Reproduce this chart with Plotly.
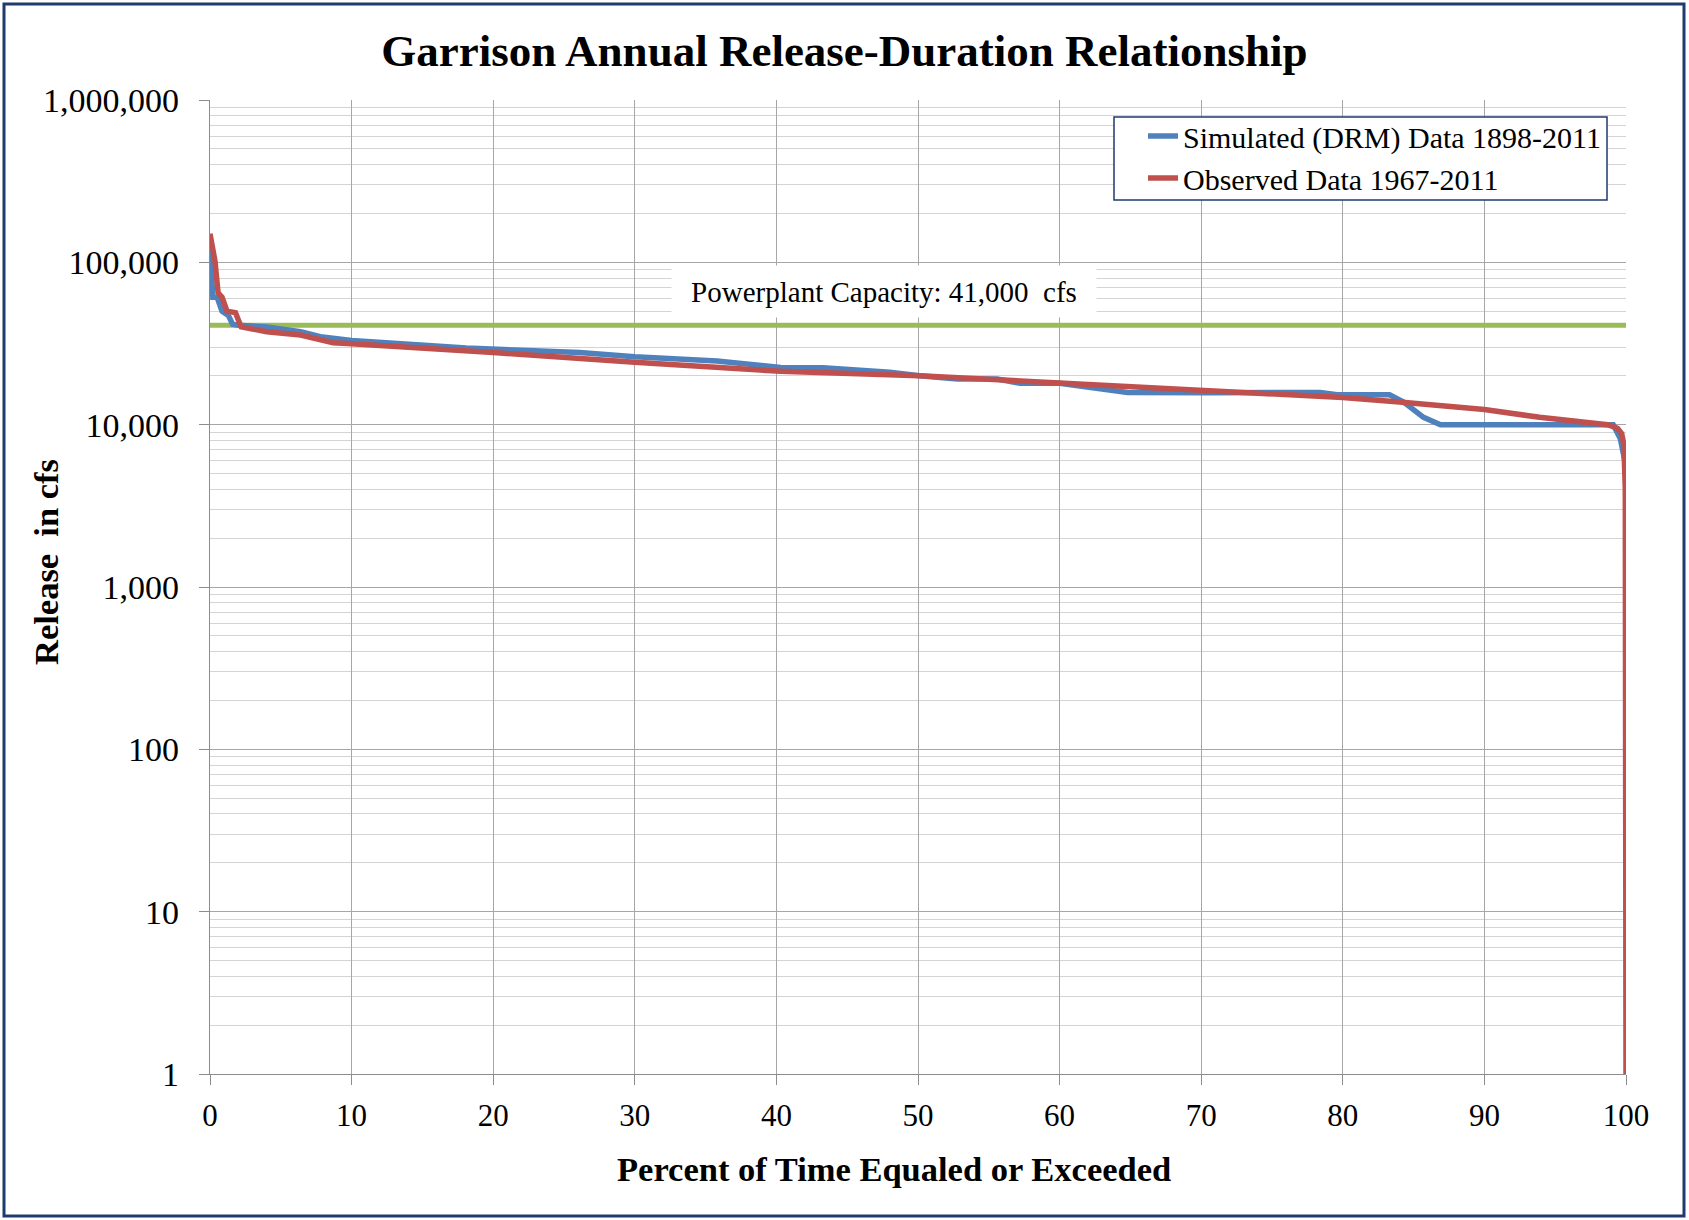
import plotly.graph_objects as go

# percent of time equaled or exceeded / release (cfs)
sim_pct = [0, 0.1, 0.2, 0.5, 0.85, 1.3, 1.6, 2.0, 4.0, 6.4, 7.8, 10, 13.4, 18.1, 26.1, 30,
           35.8, 40.3, 43.3, 48, 50.1, 52.8, 55.6, 57.2, 60, 64.8, 70.6, 78.4, 79.6, 83.3,
           84.3, 85.7, 86.9, 99.1, 99.6, 99.7, 100]
sim_cfs = [120000, 90000, 61000, 61000, 50000, 47000, 41500, 41000, 40000, 37400, 34800, 33000,
           31700, 29700, 27800, 26200, 24700, 22500, 22400, 21000, 20000, 19100, 19100, 18000,
           18000, 15800, 15700, 15800, 15300, 15300, 13800, 11100, 10000, 10000, 8200, 7300, 5500]

obs_pct = [0, 0.35, 0.57, 0.85, 1.2, 1.8, 2.2, 4.0, 6.4, 8.7, 10, 13.4, 20, 30, 40.3, 50.1,
           60, 63.3, 70.6, 80, 84, 90, 93.9, 98.7, 99.4, 99.7, 99.85, 99.95, 100]
obs_cfs = [150000, 102000, 65000, 61000, 50000, 49000, 40000, 37400, 35700, 32000, 31500,
           30000, 27800, 24200, 21300, 20000, 18000, 17600, 16200, 14700, 13800, 12400, 11100,
           10000, 9500, 8800, 7500, 4000, 1]

capacity = 41000
capacity_pct = [0, 100]

y_ticks = [1, 10, 100, 1000, 10000, 100000, 1000000]
y_labels = ["1", "10", "100", "1,000", "10,000", "100,000", "1,000,000"]

W, H = 1689, 1220
L, R, T, B = 210, 63, 100, 146
pw, ph = W - L - R, H - T - B


def px(x):
    return (x - L) / pw


def py(y):
    return (H - B - y) / ph


font = "Liberation Serif"
navy = "#1F3A6E"

fig = go.Figure()
fig.add_trace(go.Scatter(x=capacity_pct, y=[capacity] * 2, mode="lines",
                         line=dict(color="#9BBB59", width=5), showlegend=False,
                         hoverinfo="skip"))
fig.add_trace(go.Scatter(x=sim_pct, y=sim_cfs, mode="lines",
                         name="Simulated (DRM) Data 1898-2011",
                         line=dict(color="#4F81BD", width=5.5)))
fig.add_trace(go.Scatter(x=obs_pct, y=obs_cfs, mode="lines",
                         name="Observed Data 1967-2011",
                         line=dict(color="#C0504D", width=5.5)))

minor_vals = [k * 10 ** d for d in range(6) for k in range(2, 10)]

fig.update_layout(
    width=W, height=H,
    margin=dict(l=L, r=R, t=T, b=B),
    paper_bgcolor="white", plot_bgcolor="white",
    font=dict(family=font, color="black", size=30),
    title=dict(text="<b>Garrison Annual Release-Duration Relationship</b>",
               x=0.5, xanchor="center", y=1 - 50 / H, yanchor="middle",
               font=dict(family=font, size=45)),
    legend=dict(x=px(1143), y=py(110), xanchor="left", yanchor="top",
                bgcolor="rgba(0,0,0,0)", borderwidth=0,
                font=dict(family=font, size=30)),
    xaxis=dict(range=[0, 100], dtick=10, showgrid=True, gridcolor="#A6A6A6",
               gridwidth=1.3, zeroline=False, showline=True, linecolor="#8C8C8C",
               linewidth=1.3, ticks="outside", ticklen=10, tickcolor="#8C8C8C",
               ticklabelstandoff=4, tickfont=dict(size=31)),
    yaxis=dict(type="log", range=[0, 6], tickvals=y_ticks, ticktext=y_labels,
               showgrid=True, gridcolor="#A6A6A6", gridwidth=1.3, zeroline=False,
               showline=True, linecolor="#8C8C8C", linewidth=1.3, ticks="outside",
               ticklen=10, tickcolor="#8C8C8C", ticklabelstandoff=13,
               tickfont=dict(size=34),
               minor=dict(tickvals=minor_vals, showgrid=True, gridcolor="#D4D4D4",
                          gridwidth=1, ticks="")),
    annotations=[
        dict(text="<b>Percent of Time Equaled or Exceeded</b>", xref="paper", yref="paper",
             x=px(894), y=py(1169), xanchor="center", yanchor="middle",
             showarrow=False, font=dict(size=34.5)),
        dict(text="<b>Release  in cfs</b>", xref="paper", yref="paper",
             x=px(46), y=py(562), xanchor="center", yanchor="middle",
             showarrow=False, textangle=-90, font=dict(size=34.5)),
        dict(text="Powerplant Capacity: 41,000  cfs", xref="x", yref="y",
             x=47.6, y=4.82, showarrow=False, bgcolor="white", width=422, height=49,
             font=dict(size=29)),
    ],
    shapes=[
        dict(type="rect", xref="paper", yref="paper", x0=px(4), x1=px(1684),
             y0=py(1216), y1=py(4), line=dict(color=navy, width=3),
             fillcolor="rgba(0,0,0,0)", layer="below"),
        dict(type="rect", xref="paper", yref="paper", x0=px(1114), x1=px(1607),
             y0=py(200), y1=py(117), line=dict(color=navy, width=1.5),
             fillcolor="white", layer="above"),
    ],
)

fig.write_html("out.html", config={"displayModeBar": False},
               post_script="document.body.style.margin='0';")
